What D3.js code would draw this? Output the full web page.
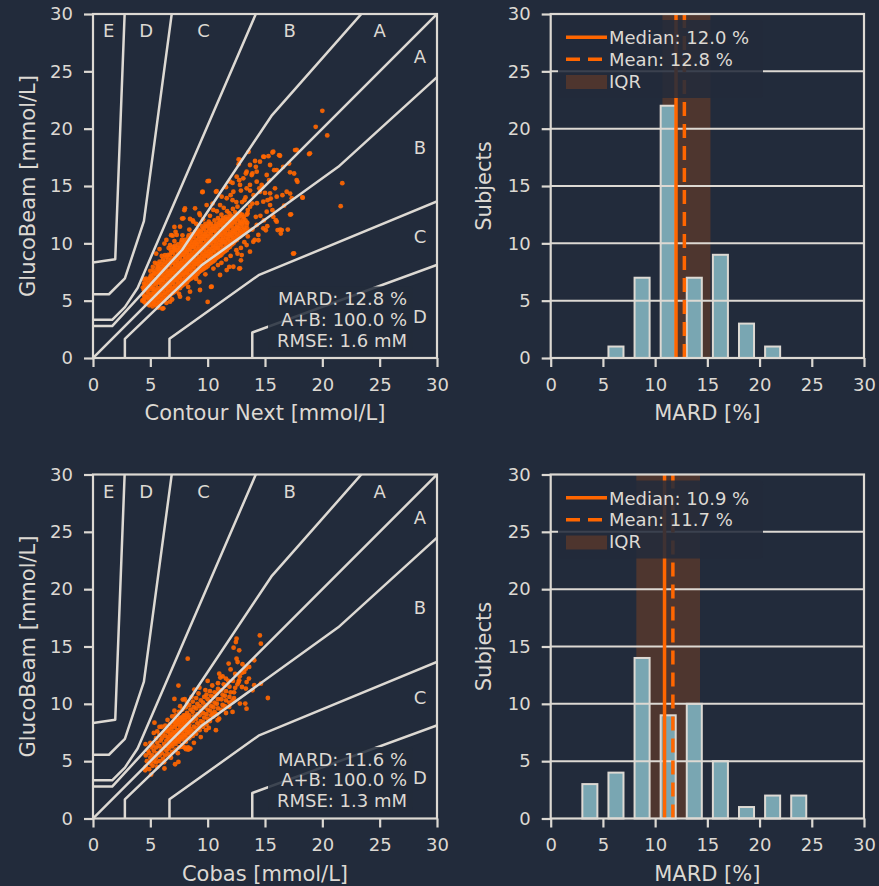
<!DOCTYPE html>
<html><head><meta charset="utf-8">
<script src="https://cdn.jsdelivr.net/npm/d3@7"></script>
<style>html,body{margin:0;padding:0;background:#222b3b;} svg{display:block;font-family:"DejaVu Sans",sans-serif;}</style>
</head><body><svg id="c" width="879" height="886"></svg>
<script>
// ---------------- data ----------------
const axisTicks = [0, 5, 10, 15, 20, 25, 30];

// Parkes (consensus) error grid zone boundaries, mmol/L
const zoneDiag   = [[0,0],[30,30]];
const zoneAUpper = [[0,2.78],[1.67,2.78],[7.78,9.44],[15.56,21.11],[23.89,30.56]];
const zoneALower = [[2.78,0],[2.78,1.67],[9.44,8.06],[21.39,16.67],[30.56,25.0]];
const zoneBUpper = [[0,3.33],[1.67,3.33],[2.78,4.44],[3.89,6.11],[14.44,30.56]];
const zoneBLower = [[6.67,0],[6.67,1.67],[14.44,7.22],[30.56,13.89]];
const zoneCUpper = [[0,5.56],[1.39,5.56],[2.78,6.94],[4.44,11.94],[6.94,30.56]];
const zoneCLower = [[13.89,0],[13.89,2.22],[30.56,8.33]];
const zoneDUpper = [[0,8.33],[1.94,8.61],[2.78,30.56]];

const zoneLabelsTop   = [["E",1.36],["D",4.64],["C",9.65],["B",17.16],["A",24.99]];
const zoneLabelsRight = [["A",26.27],["B",18.36],["C",10.56],["D",3.58]];

// Contour Next reference vs GlucoBeam
const contourPairs = [
[4.3,5.0],[4.4,5.6],[4.5,6.2],[4.4,6.9],[4.6,4.7],[4.6,5.3],[4.7,5.9],[4.6,6.5],
[4.9,4.6],[4.9,5.1],[4.8,5.5],[5.0,6.0],[4.9,6.5],[5.0,7.0],
[5.2,4.5],[5.3,4.9],[5.2,5.4],[5.3,5.8],[5.2,6.2],[5.3,6.7],[5.2,7.2],[5.3,7.6],
[5.5,4.6],[5.6,5.1],[5.5,5.5],[5.6,5.9],[5.5,6.4],[5.6,6.8],[5.5,7.3],[5.6,7.8],[5.6,8.2],
[5.8,4.8],[5.9,5.3],[5.8,5.7],[5.9,6.1],[5.8,6.6],[5.9,7.0],[5.8,7.5],[5.9,7.9],[5.8,8.4],
[6.1,5.0],[6.2,5.5],[6.1,5.9],[6.2,6.3],[6.1,6.8],[6.2,7.2],[6.1,7.7],[6.2,8.1],[6.1,8.6],
[6.4,5.2],[6.5,5.7],[6.4,6.1],[6.5,6.5],[6.4,7.0],[6.5,7.4],[6.4,7.9],[6.5,8.3],[6.4,8.8],
[6.7,5.4],[6.8,5.9],[6.7,6.3],[6.8,6.8],[6.7,7.2],[6.8,7.6],[6.7,8.1],[6.8,8.5],[6.7,9.0],[6.8,9.4],
[7.0,5.7],[7.1,6.1],[7.0,6.6],[7.1,7.0],[7.0,7.4],[7.1,7.9],[7.0,8.3],[7.1,8.7],[7.0,9.2],[7.1,9.6],
[7.3,5.9],[7.4,6.4],[7.3,6.8],[7.4,7.2],[7.3,7.7],[7.4,8.1],[7.3,8.5],[7.4,9.0],[7.3,9.4],[7.4,9.9],
[7.6,6.1],[7.7,6.6],[7.6,7.0],[7.7,7.5],[7.6,7.9],[7.7,8.3],[7.6,8.8],[7.7,9.2],[7.6,9.6],[7.7,10.1],
[7.9,6.4],[8.0,6.8],[7.9,7.3],[8.0,7.7],[7.9,8.1],[8.0,8.6],[7.9,9.0],[8.0,9.4],[7.9,9.9],[8.0,10.3],
[8.2,6.6],[8.3,7.1],[8.2,7.5],[8.3,7.9],[8.2,8.4],[8.3,8.8],[8.2,9.2],[8.3,9.7],[8.2,10.1],[8.3,10.5],
[8.5,6.9],[8.6,7.3],[8.5,7.7],[8.6,8.2],[8.5,8.6],[8.6,9.0],[8.5,9.5],[8.6,9.9],[8.5,10.3],[8.6,10.8],
[8.8,7.1],[8.9,7.5],[8.8,8.0],[8.9,8.4],[8.8,8.8],[8.9,9.3],[8.8,9.7],[8.9,10.1],[8.8,10.6],[8.9,11.0],
[9.1,7.3],[9.2,7.8],[9.1,8.2],[9.2,8.6],[9.1,9.1],[9.2,9.5],[9.1,9.9],[9.2,10.4],[9.1,10.8],[9.2,11.2],
[9.4,7.6],[9.5,8.0],[9.4,8.4],[9.5,8.9],[9.4,9.3],[9.5,9.7],[9.4,10.2],[9.5,10.6],[9.4,11.0],[9.5,11.5],
[9.7,7.8],[9.8,8.2],[9.7,8.7],[9.8,9.1],[9.7,9.5],[9.8,10.0],[9.7,10.4],[9.8,10.8],[9.7,11.3],[9.8,11.7],
[10.0,8.0],[10.1,8.5],[10.0,8.9],[10.1,9.3],[10.0,9.8],[10.1,10.2],[10.0,10.6],[10.1,11.1],[10.0,11.5],[10.1,11.9],
[10.3,8.3],[10.4,8.7],[10.3,9.1],[10.4,9.6],[10.3,10.0],[10.4,10.4],[10.3,10.9],[10.4,11.3],[10.3,11.7],
[10.6,8.5],[10.7,8.9],[10.6,9.4],[10.7,9.8],[10.6,10.2],[10.7,10.7],[10.6,11.1],[10.7,11.5],[10.6,12.0],
[10.9,8.8],[11.0,9.2],[10.9,9.6],[11.0,10.1],[10.9,10.5],[11.0,10.9],[10.9,11.4],[11.0,11.8],[10.9,12.2],
[11.2,9.0],[11.3,9.4],[11.2,9.9],[11.3,10.3],[11.2,10.7],[11.3,11.2],[11.2,11.6],[11.3,12.0],[11.2,12.5],
[11.5,9.3],[11.6,9.7],[11.5,10.1],[11.6,10.6],[11.5,11.0],[11.6,11.4],[11.5,11.9],[11.6,12.3],
[11.8,9.6],[11.9,10.0],[11.8,10.4],[11.9,10.8],[11.8,11.3],[11.9,11.7],[11.8,12.1],[11.9,12.6],
[12.1,9.9],[12.2,10.3],[12.1,10.7],[12.2,11.1],[12.1,11.6],[12.2,12.0],[12.1,12.4],
[12.4,10.2],[12.5,10.6],[12.4,11.0],[12.5,11.4],[12.4,11.9],[12.5,12.3],[12.4,12.7],
[12.7,10.5],[12.8,10.9],[12.7,11.3],[12.8,11.8],[12.7,12.2],[12.8,12.6],
[13.0,10.8],[13.1,11.2],[13.0,11.7],[13.1,12.1],[13.0,12.5],
[13.3,11.1],[13.4,11.6],[13.3,12.0],[13.4,12.5],
[4.45,4.9],[4.45,5.4],[4.45,5.9],[4.45,6.5],
[4.75,4.8],[4.75,5.3],[4.75,5.8],[4.75,6.3],[4.75,6.8],
[5.05,4.7],[5.05,5.2],[5.05,5.6],[5.05,6.2],[5.05,6.7],[5.05,7.2],
[5.35,4.7],[5.35,5.1],[5.35,5.6],[5.35,6.0],[5.35,6.5],[5.35,6.9],[5.35,7.4],
[5.65,4.8],[5.65,5.3],[5.65,5.7],[5.65,6.1],[5.65,6.6],[5.65,7.0],[5.65,7.5],[5.65,8.0],
[5.95,5.0],[5.95,5.5],[5.95,5.9],[5.95,6.4],[5.95,6.8],[5.95,7.3],[5.95,7.7],[5.95,8.2],
[6.25,5.2],[6.25,5.7],[6.25,6.1],[6.25,6.6],[6.25,7.0],[6.25,7.5],[6.25,7.9],[6.25,8.4],
[6.55,5.4],[6.55,5.9],[6.55,6.3],[6.55,6.8],[6.55,7.2],[6.55,7.6],[6.55,8.1],[6.55,8.6],[6.55,9.0],
[6.85,5.6],[6.85,6.1],[6.85,6.5],[6.85,7.0],[6.85,7.4],[6.85,7.8],[6.85,8.3],[6.85,8.7],[6.85,9.2],
[7.15,5.8],[7.15,6.3],[7.15,6.8],[7.15,7.2],[7.15,7.6],[7.15,8.1],[7.15,8.5],[7.15,8.9],[7.15,9.4],[7.15,9.8],
[7.45,6.1],[7.45,6.6],[7.45,7.0],[7.45,7.4],[7.45,7.9],[7.45,8.3],[7.45,8.7],[7.45,9.2],[7.45,9.6],
[7.75,6.3],[7.75,6.8],[7.75,7.2],[7.75,7.7],[7.75,8.1],[7.75,8.5],[7.75,9.0],[7.75,9.4],[7.75,9.8],[7.75,10.3],
[8.05,6.5],[8.05,7.0],[8.05,7.4],[8.05,7.9],[8.05,8.3],[8.05,8.8],[8.05,9.2],[8.05,9.6],[8.05,10.1],
[8.35,6.8],[8.35,7.3],[8.35,7.7],[8.35,8.1],[8.35,8.6],[8.35,9.0],[8.35,9.4],[8.35,9.9],[8.35,10.3],[8.35,10.7],
[8.65,7.0],[8.65,7.5],[8.65,7.9],[8.65,8.4],[8.65,8.8],[8.65,9.2],[8.65,9.7],[8.65,10.1],[8.65,10.5],
[8.95,7.2],[8.95,7.7],[8.95,8.2],[8.95,8.6],[8.95,9.0],[8.95,9.5],[8.95,9.9],[8.95,10.3],[8.95,10.8],
[9.25,7.5],[9.25,8.0],[9.25,8.4],[9.25,8.8],[9.25,9.3],[9.25,9.7],[9.25,10.1],[9.25,10.6],[9.25,11.0],
[9.55,7.7],[9.55,8.2],[9.55,8.6],[9.55,9.1],[9.55,9.5],[9.55,9.9],[9.55,10.4],[9.55,10.8],[9.55,11.2],
[9.85,7.9],[9.85,8.4],[9.85,8.9],[9.85,9.3],[9.85,9.7],[9.85,10.2],[9.85,10.6],[9.85,11.0],[9.85,11.5],
[10.15,8.2],[10.15,8.7],[10.15,9.1],[10.15,9.5],[10.15,10.0],[10.15,10.4],[10.15,10.8],[10.15,11.3],[10.15,11.7],
[10.45,8.4],[10.45,8.9],[10.45,9.3],[10.45,9.8],[10.45,10.2],[10.45,10.6],[10.45,11.1],[10.45,11.5],
[10.75,8.7],[10.75,9.1],[10.75,9.6],[10.75,10.0],[10.75,10.4],[10.75,10.9],[10.75,11.3],[10.75,11.7],
[11.05,8.9],[11.05,9.4],[11.05,9.8],[11.05,10.3],[11.05,10.7],[11.05,11.1],[11.05,11.6],[11.05,12.0],
[11.35,9.2],[11.35,9.6],[11.35,10.1],[11.35,10.5],[11.35,10.9],[11.35,11.4],[11.35,11.8],[11.35,12.2],
[11.65,9.4],[11.65,9.9],[11.65,10.3],[11.65,10.8],[11.65,11.2],[11.65,11.6],[11.65,12.1],
[11.95,9.7],[11.95,10.2],[11.95,10.6],[11.95,11.0],[11.95,11.5],[11.95,11.9],[11.95,12.3],
[12.25,10.0],[12.25,10.5],[12.25,10.9],[12.25,11.3],[12.25,11.8],[12.25,12.2],
[12.55,10.3],[12.55,10.8],[12.55,11.2],[12.55,11.6],[12.55,12.1],[12.55,12.5],
[12.85,10.6],[12.85,11.1],[12.85,11.5],[12.85,11.9],[12.85,12.4],
[13.15,10.9],[13.15,11.4],[13.15,11.8],[13.15,12.3],
[13.45,11.3],[13.45,11.8],
[20.0,21.56],[19.42,20.16],[20.43,19.41],[17.62,18.13],[18.84,17.78],[21.74,15.25],[21.6,13.24],[17.45,9.11],
[18.26,14.0],[17.83,15.36],[17.1,16.96],[17.54,16.09],[17.19,14.34],[17.19,12.51],[16.99,11.2],[16.32,11.2],
[16.38,10.85],[16.52,14.2],[15.65,17.92],[16.23,17.69],[15.3,17.6],[14.93,17.54],[13.57,17.98],[12.7,17.31],
[12.7,16.9],[16.58,16.67],[15.8,16.38],[15.36,15.5],[14.78,14.93],[13.9,16.09],[13.33,16.09],[14.2,16.67],
[10.0,15.42],[9.54,14.46],[10.72,14.49],[7.97,12.89],[7.77,12.16],[6.81,10.71],[6.23,9.98],[5.51,9.11],
[10.0,4.89],[6.03,4.31],[4.49,5.09],[4.35,6.14],[4.64,6.92],[8.29,5.18],[10.29,6.2],[12.75,7.8],
[12.9,8.52],[12.6,9.11],[14.43,10.27],[15.07,11.14],[15.94,12.02],[15.65,12.89],[15.22,13.76],[14.2,12.31],
[11.88,7.94],[9.28,6.63],[11.0,9.11],[11.6,14.9],[12.17,15.27],[12.75,15.5],[12.17,13.76],[13.2,13.76],
[13.9,13.47],[13.48,12.6],[10.43,13.47],[9.28,12.6],[8.7,12.0],[7.1,11.43],[6.96,9.69],[5.22,7.94],[5.07,7.07],
[17.76,18.14],[18.92,17.85],[15.72,17.99],[16.31,17.64],[14.85,17.56],[14.56,17.12],[14.13,17.18],[12.82,17.27],
[13.4,16.25],[14.28,16.25],[15.15,15.96],[16.02,16.39],[17.18,16.19],[17.76,15.52],[18.29,13.98],[17.33,13.93],
[16.66,13.28],[16.89,14.5],[15.87,14.8],[16.02,14.07],[16.46,11.16],[16.1,11.16],[17.27,12.53],[17.53,9.13],
[10.12,15.44],[9.56,14.5],[10.78,14.56],[7.88,12.18],[8.46,12.12],[6.95,10.67],[8.02,13.05],[8.9,13.05],
[9.91,13.34],[11.22,14.07],[11.95,15.38],[12.53,15.81],[13.11,15.67],[13.69,15.09],[13.4,14.8],[14.56,14.5],
[14.85,13.63],[15.44,13.34],[15.15,12.76],[15.72,12.32],[16.02,11.89],[14.28,11.6],[14.85,11.31],[14.42,10.73],
[13.98,10.14],[13.4,9.85],[13.69,9.27],[12.97,8.98],[12.82,7.82],[12.24,7.96],[11.66,7.67],[11.08,7.24],
[10.35,6.22],[9.33,5.93],[8.46,5.78],[7.59,5.35],[6.72,4.91],[6.13,4.33],[5.26,4.91],[4.39,5.06],
[4.53,6.07],[4.97,6.95],[5.7,7.82],[6.28,8.98],[6.72,9.85],[7.3,10.73],[7.59,11.45],[8.75,11.89],
[9.33,12.47],[10.49,12.91],[11.08,13.34],[11.66,13.93],[12.24,14.5],[12.82,15.09],[14.28,15.38],[13.69,16.83],
[13.84,15.96],[15.44,16.83],[14.71,15.09],[15.44,14.36],
[12.6,13.2],[13.0,13.6],[13.3,14.0],[13.7,13.2],[14.0,14.2],[14.3,13.5],[13.5,12.9],[14.6,12.4],
[14.9,12.0],[15.2,11.5],[13.9,11.2],[14.1,10.3],[12.9,9.6],[13.5,10.6],[12.5,13.6],[12.2,13.0],
[11.7,12.8],[11.4,13.1],[12.0,14.2],[12.9,14.6],[13.7,14.6],[14.5,14.8],[15.0,14.4],[15.5,13.9],
[9.0,6.9],[9.8,7.3],[10.5,7.8],[11.2,8.3],[12.0,8.9],[8.3,6.2],[7.5,5.6],[6.9,5.1],[6.4,4.8],[5.7,4.4],
[10.9,8.1],[11.6,8.6],[12.5,9.4],[13.2,10.1],
[5.0,7.6],[5.4,8.3],[6.0,8.9],[6.6,9.6],[7.1,10.2],[7.8,10.7],[8.4,11.2],[9.0,11.7],[9.6,12.1],[10.2,12.4],
[10.8,12.8],[5.8,9.5],[6.4,10.3],[7.2,11.0]
];

// Cobas reference vs GlucoBeam
const cobasPairs = [
[4.6,4.5],[4.7,5.0],[4.6,5.5],[4.8,5.9],
[4.9,4.3],[5.0,4.8],[5.0,5.3],[4.9,5.7],[5.1,6.2],
[5.2,4.6],[5.3,5.0],[5.2,5.5],[5.3,5.9],[5.2,6.4],
[5.5,4.9],[5.5,5.3],[5.6,5.7],[5.5,6.2],[5.6,6.6],[5.5,7.0],
[5.8,5.0],[5.8,5.5],[5.9,5.9],[5.8,6.3],[5.9,6.8],[5.8,7.3],
[6.1,5.2],[6.0,5.7],[6.1,6.1],[6.2,6.5],[6.0,7.0],[6.1,7.4],
[6.3,5.5],[6.4,5.9],[6.3,6.3],[6.4,6.8],[6.3,7.2],[6.4,7.6],[6.3,8.1],
[6.6,5.6],[6.6,6.1],[6.7,6.5],[6.6,6.9],[6.7,7.4],[6.6,7.8],[6.7,8.2],
[6.9,5.8],[6.9,6.3],[7.0,6.7],[6.9,7.1],[7.0,7.5],[6.9,8.0],[7.0,8.4],[6.9,8.9],
[7.2,6.0],[7.2,6.5],[7.3,6.9],[7.2,7.3],[7.3,7.7],[7.2,8.2],[7.3,8.6],[7.2,9.0],
[7.5,6.2],[7.5,6.7],[7.6,7.1],[7.5,7.5],[7.6,8.0],[7.5,8.4],[7.6,8.8],[7.5,9.3],
[7.8,6.4],[7.8,6.9],[7.9,7.3],[7.8,7.7],[7.9,8.2],[7.8,8.6],[7.9,9.0],[7.8,9.5],
[8.1,6.7],[8.1,7.1],[8.2,7.5],[8.1,7.9],[8.2,8.4],[8.1,8.8],[8.2,9.2],[8.1,9.7],[8.2,10.1],
[8.4,7.0],[8.4,7.4],[8.5,7.8],[8.4,8.2],[8.5,8.6],[8.4,9.0],[8.5,9.5],[8.4,9.9],
[8.7,7.2],[8.7,7.6],[8.8,8.0],[8.7,8.5],[8.8,8.9],[8.7,9.3],[8.8,9.7],[8.7,10.2],
[9.0,7.4],[9.0,7.9],[9.1,8.3],[9.0,8.7],[9.1,9.1],[9.0,9.6],[9.1,10.0],[9.0,10.5],
[9.3,7.7],[9.3,8.1],[9.4,8.5],[9.3,9.0],[9.4,9.4],[9.3,9.8],[9.4,10.3],
[9.6,8.0],[9.6,8.4],[9.7,8.8],[9.6,9.2],[9.7,9.7],[9.6,10.1],[9.7,10.6],
[9.9,8.2],[10.0,8.7],[9.9,9.1],[10.0,9.5],[9.9,9.9],[10.0,10.4],[9.9,10.8],
[10.2,8.5],[10.3,9.0],[10.2,9.4],[10.3,9.8],[10.2,10.2],[10.3,10.7],[10.2,11.1],
[10.5,8.9],[10.6,9.3],[10.5,9.7],[10.6,10.1],[10.5,10.6],[10.6,11.0],
[10.8,9.1],[10.9,9.6],[10.8,10.0],[10.9,10.4],[10.8,10.9],[10.9,11.3],
[11.2,9.5],[11.3,9.9],[11.2,10.4],[11.3,10.8],[11.2,11.2],
[11.5,9.8],[11.6,10.3],[11.5,10.7],[11.6,11.1],[11.5,11.6],
[11.9,10.1],[11.9,10.6],[12.0,11.0],[11.9,11.5],
[12.3,10.5],[12.3,11.0],[12.4,11.4],[12.2,12.0],
[6.55,6.3],[6.55,7.1],[6.55,7.6],
[6.85,6.5],[6.85,7.3],[6.85,7.8],
[7.15,6.7],[7.15,7.1],[7.15,7.5],[7.15,8.0],[7.15,8.4],
[7.45,6.9],[7.45,7.3],[7.45,7.7],[7.45,8.2],[7.45,8.6],
[7.75,7.1],[7.75,7.5],[7.75,8.0],[7.75,8.4],[7.75,8.8],
[8.05,7.3],[8.05,7.7],[8.05,8.2],[8.05,8.6],[8.05,9.0],
[8.35,7.6],[8.35,8.0],[8.35,8.4],[8.35,8.8],
[14.55,15.97],[14.64,15.25],[12.52,15.68],[12.46,15.39],[12.26,14.9],[12.75,14.67],[12.52,13.94],[12.61,13.65],
[11.83,13.51],[13.04,13.45],[14.06,13.8],[13.62,13.22],[13.19,12.78],[13.33,13.07],[12.75,12.05],[12.7,11.91],
[12.99,11.47],[13.33,11.33],[13.91,11.18],[14.06,11.62],[14.64,11.76],[15.25,10.51],[12.81,10.02],[13.28,10.02],
[13.39,9.58],[12.17,10.31],[11.01,12.63],[11.1,12.29],[10.0,12.0],[11.59,12.2],[8.26,13.94],[7.45,11.59],
[7.1,10.43],[7.83,10.37],[8.84,11.24],[9.28,11.41],[5.36,8.36],[5.8,7.99],[5.3,7.46],[4.58,6.48],
[4.55,4.21],[5.07,3.83],[6.23,4.36],[7.16,4.73],[7.45,4.94],[8.49,6.1],[8.29,6.19],[7.77,6.24],
[9.86,7.7],[10.72,7.7],[10.87,8.57],[10.43,9.15],[11.88,9.73],[12.17,9.29],
[6.5,8.6],[7.1,9.4],[7.6,9.8],[8.0,10.4],[8.6,10.6],[9.2,10.9],[9.8,11.2],[10.4,11.6],[10.9,11.8],
[5.6,7.6],[6.0,8.0],[5.0,6.6],[6.8,5.3],[7.4,5.7],[8.0,6.2],[8.8,6.6],[9.4,7.1],[10.1,7.9],[11.0,8.7],
[11.6,9.2],[6.2,4.9],[5.6,4.5],[8.3,6.0],[8.4,6.1],[8.1,6.05],
[12.8,12.4],[13.0,12.7],[12.4,12.6],[11.8,12.0],[11.3,12.4],[12.0,13.0],[11.4,11.7],[12.6,11.7],
[13.6,12.2],[13.4,11.9]
];

const statsContour = ["MARD: 12.8 %", "A+B: 100.0 %", "RMSE: 1.6 mM"];
const statsCobas   = ["MARD: 11.6 %", "A+B: 100.0 %", "RMSE: 1.3 mM"];

// MARD histograms (bin width 2.5 %)
const binStarts         = [0, 2.5, 5, 7.5, 10, 12.5, 15, 17.5, 20, 22.5, 25, 27.5];
const mardCountsContour = [0, 0, 1, 7, 22, 7, 9, 3, 1, 0, 0, 0];
const mardCountsCobas   = [0, 3, 4, 14, 9, 10, 5, 1, 2, 2, 0, 0];
const summaryContour = {median: 12.0, mean: 12.8, q1: 10.7, q3: 15.3};
const summaryCobas   = {median: 10.9, mean: 11.7, q1: 8.2, q3: 14.3};

// ---------------- style ----------------
const BG = "#222b3b", FG = "#ddd9d3", ORANGE = "#ff6600", BAR = "#79a6b2";
const TICK_FS = 18, LABEL_FS = 21;

const svg = d3.select("#c");
svg.append("rect").attr("width", 879).attr("height", 886).attr("fill", BG);

function styleAxis(g) {
  g.select(".domain").remove();
  g.selectAll(".tick line").attr("stroke", FG).attr("stroke-width", 2.2);
  g.selectAll(".tick text").attr("fill", FG).attr("font-size", TICK_FS)
    .attr("font-family", "DejaVu Sans");
}

function axes(x, y, top, bottom, left, xLabel, yLabel, yLabelX) {
  const gx = svg.append("g").attr("transform", `translate(0,${bottom})`)
    .call(d3.axisBottom(x).tickValues(axisTicks).tickSize(9).tickPadding(11).tickFormat(d3.format("d")));
  styleAxis(gx);
  const gy = svg.append("g").attr("transform", `translate(${left},0)`)
    .call(d3.axisLeft(y).tickValues(axisTicks).tickSize(9).tickPadding(11).tickFormat(d3.format("d")));
  styleAxis(gy);
  const [x0, x1] = x.range();
  svg.append("text").attr("x", (x0 + x1) / 2).attr("y", bottom + 62)
    .attr("text-anchor", "middle").attr("fill", FG).attr("font-size", LABEL_FS).text(xLabel);
  svg.append("text").attr("transform", `translate(${yLabelX},${(top + bottom) / 2}) rotate(-90)`)
    .attr("text-anchor", "middle").attr("fill", FG).attr("font-size", LABEL_FS).text(yLabel);
}

function scatterPanel(top, pairs, xLabel, stats, id) {
  const left = 93, size = 344, bottom = top + size;
  const x = d3.scaleLinear().domain([0, 30]).range([left, left + size]);
  const y = d3.scaleLinear().domain([0, 30]).range([bottom, top]);
  svg.append("clipPath").attr("id", id).append("rect")
    .attr("x", left).attr("y", top).attr("width", size).attr("height", size);
  const g = svg.append("g").attr("clip-path", `url(#${id})`);
  g.selectAll("circle").data(pairs).join("circle")
    .attr("cx", d => x(d[0])).attr("cy", d => y(d[1])).attr("r", 2.4)
    .attr("fill", ORANGE).attr("fill-opacity", 0.92);
  const line = d3.line().x(d => x(d[0])).y(d => y(d[1]));
  [zoneDiag, zoneAUpper, zoneALower, zoneBUpper, zoneBLower, zoneCUpper, zoneCLower, zoneDUpper]
    .forEach(z => g.append("path").attr("d", line(z)).attr("fill", "none")
      .attr("stroke", FG).attr("stroke-width", 2.5).attr("stroke-linejoin", "round"));
  zoneLabelsTop.forEach(([t, xv]) => svg.append("text").attr("x", x(xv)).attr("y", y(28.55))
    .attr("dy", "0.36em").attr("text-anchor", "middle").attr("fill", FG).attr("font-size", TICK_FS).text(t));
  zoneLabelsRight.forEach(([t, yv]) => svg.append("text").attr("x", x(28.52)).attr("y", y(yv))
    .attr("dy", "0.36em").attr("text-anchor", "middle").attr("fill", FG).attr("font-size", TICK_FS).text(t));
  // stats box
  svg.append("rect").attr("x", 268).attr("y", top + 272.5).attr("width", 145).attr("height", 64)
    .attr("rx", 4).attr("fill", BG).attr("fill-opacity", 0.85);
  stats.forEach((s, i) => svg.append("text").attr("x", 407).attr("y", top + 291 + i * 20.8)
    .attr("text-anchor", "end").attr("fill", FG).attr("font-size", TICK_FS).text(s));
  svg.append("rect").attr("x", left).attr("y", top).attr("width", size).attr("height", size)
    .attr("fill", "none").attr("stroke", FG).attr("stroke-width", 2.2);
  axes(x, y, top, bottom, left, xLabel, "GlucoBeam [mmol/L]", 35);
}

function histPanel(top, counts, summary) {
  const left = 550.7, right = 864, bottom = top + 344;
  const x = d3.scaleLinear().domain([0, 30]).range([left, right]);
  const y = d3.scaleLinear().domain([0, 30]).range([bottom, top]);
  // IQR band
  svg.append("rect").attr("x", x(summary.q1)).attr("y", top)
    .attr("width", x(summary.q3) - x(summary.q1)).attr("height", bottom - top)
    .attr("fill", ORANGE).attr("fill-opacity", 0.2);
  // bars
  const bins = binStarts.map((b, i) => ({c: b + 1.25, n: counts[i]}));
  svg.append("g").selectAll("rect").data(bins).join("rect")
    .attr("x", d => x(d.c - 0.72)).attr("width", d => x(d.c + 0.72) - x(d.c - 0.72))
    .attr("y", d => y(d.n)).attr("height", d => y(0) - y(d.n))
    .attr("fill", BAR).attr("stroke", FG).attr("stroke-width", 2);
  // grid
  svg.append("g").selectAll("line").data(axisTicks.slice(1, -1)).join("line")
    .attr("x1", left).attr("x2", right).attr("y1", d => y(d)).attr("y2", d => y(d))
    .attr("stroke", FG).attr("stroke-width", 2);
  // median / mean
  svg.append("line").attr("x1", x(summary.median)).attr("x2", x(summary.median))
    .attr("y1", top).attr("y2", bottom).attr("stroke", ORANGE).attr("stroke-width", 3.5);
  svg.append("line").attr("x1", x(summary.mean)).attr("x2", x(summary.mean))
    .attr("y1", top).attr("y2", bottom).attr("stroke", ORANGE).attr("stroke-width", 3.5)
    .attr("stroke-dasharray", "14,8");
  // legend
  const lg = svg.append("g").attr("transform", `translate(0,${top})`);
  lg.append("rect").attr("x", 558).attr("y", 6).attr("width", 205).attr("height", 78)
    .attr("rx", 4).attr("fill", BG).attr("fill-opacity", 0.87);
  lg.append("line").attr("x1", 566).attr("x2", 607).attr("y1", 23.3).attr("y2", 23.3)
    .attr("stroke", ORANGE).attr("stroke-width", 3.5);
  lg.append("line").attr("x1", 566).attr("x2", 607).attr("y1", 45.3).attr("y2", 45.3)
    .attr("stroke", ORANGE).attr("stroke-width", 3.5).attr("stroke-dasharray", "14,8");
  lg.append("rect").attr("x", 566).attr("y", 61).attr("width", 41).attr("height", 14)
    .attr("fill", ORANGE).attr("fill-opacity", 0.2);
  const items = [`Median: ${summary.median.toFixed(1)} %`, `Mean: ${summary.mean.toFixed(1)} %`, "IQR"];
  items.forEach((t, i) => lg.append("text").attr("x", 609).attr("y", 30 + i * 21.8)
    .attr("fill", FG).attr("font-size", TICK_FS).text(t));
  svg.append("rect").attr("x", left).attr("y", top).attr("width", right - left).attr("height", bottom - top)
    .attr("fill", "none").attr("stroke", FG).attr("stroke-width", 2.2);
  axes(x, y, top, bottom, left, "MARD [%]", "Subjects", 491);
}

scatterPanel(14, contourPairs, "Contour Next [mmol/L]", statsContour, "clipA");
scatterPanel(474.5, cobasPairs, "Cobas [mmol/L]", statsCobas, "clipB");
histPanel(14, mardCountsContour, summaryContour);
histPanel(474.5, mardCountsCobas, summaryCobas);
</script></body></html>
